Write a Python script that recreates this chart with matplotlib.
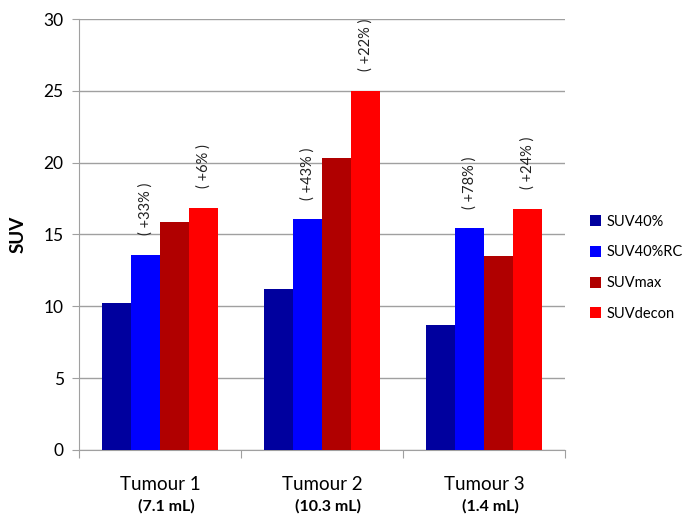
import numpy as np
import matplotlib.pyplot as plt

plt.rcParams['font.family'] = ['Lato', 'DejaVu Sans']

tumours = ['Tumour 1', 'Tumour 2', 'Tumour 3']
volumes = ['(7.1 mL)', '(10.3 mL)', '(1.4 mL)']
series = ['SUV40%', 'SUV40%RC', 'SUVmax', 'SUVdecon']
suv40 = [10.25, 11.2, 8.68]
suv40rc = [13.6, 16.07, 15.45]
suvmax = [15.87, 20.3, 13.5]
suvdecon = [16.86, 25.0, 16.8]
rc_gain = ['( +33% )', '( +43% )', '( +78% )']
decon_gain = ['( +6% )', '( +22% )', '( +24% )']

colors = ['#00009e', '#0000ff', '#b00000', '#ff0000']

fig = plt.figure(figsize=(6.82, 5.18), dpi=100)
ax = fig.add_axes([0.1158, 0.1313, 0.7126, 0.832])

x = np.arange(len(tumours))
w = 0.18
values = [suv40, suv40rc, suvmax, suvdecon]
for k, (name, vals) in enumerate(zip(series, values)):
    ax.bar(x + (k - 1.5) * w, vals, w, color=colors[k], label=name, zorder=3)

# percentage gains above the RC and decon bars
for i in range(len(tumours)):
    ax.text(x[i] - 0.5 * w, suv40rc[i] + 1.35, rc_gain[i], rotation=90,
            ha='center', va='bottom', fontsize=10.5, color='#222222')
    ax.text(x[i] + 1.5 * w, suvdecon[i] + 1.35, decon_gain[i], rotation=90,
            ha='center', va='bottom', fontsize=10.5, color='#222222')

ax.set_xlim(-0.5, 2.5)
ax.set_ylim(0, 30)
ax.set_yticks(range(0, 31, 5))
ax.yaxis.grid(True, color='#a0a0a0', lw=1.0, zorder=0)
ax.tick_params(axis='y', length=5, color='#a0a0a0', labelsize=12.5, pad=6)

ax.set_xticks([-0.5, 0.5, 1.5, 2.5])
ax.set_xticklabels([])
ax.tick_params(axis='x', length=6, color='#a0a0a0')
for i in range(len(tumours)):
    ax.text(x[i], -2.4, tumours[i], ha='center', va='center', fontsize=13.5,
            clip_on=False)
    ax.text(x[i] + 0.04, -3.9, volumes[i], ha='center', va='center',
            fontsize=11.5, fontweight='bold', clip_on=False)

for s in ['top', 'right']:
    ax.spines[s].set_visible(False)
for s in ['left', 'bottom']:
    ax.spines[s].set_color('#a0a0a0')

ax.set_ylabel('SUV', fontsize=13.5, fontweight='bold', labelpad=12)

ax.legend(loc='center left', bbox_to_anchor=(0.856, 0.483), bbox_transform=fig.transFigure,
          frameon=False, fontsize=10.5, handlelength=0.8, handleheight=0.8,
          handletextpad=0.35, labelspacing=1.15, borderaxespad=0)

fig.savefig('out.png', dpi=100)
